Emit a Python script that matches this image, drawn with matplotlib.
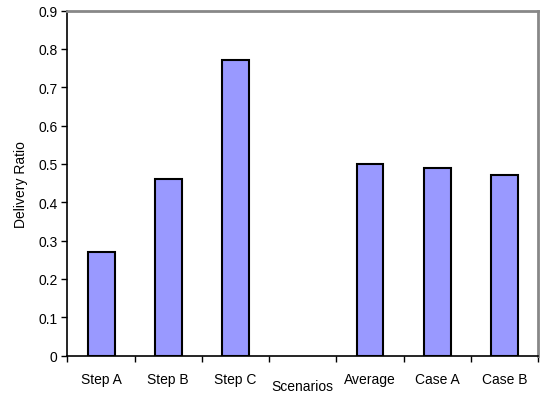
import matplotlib.pyplot as plt
import numpy as np

plt.rcParams["font.family"] = ["Liberation Sans", "DejaVu Sans"]

scenarios = ["Step A", "Step B", "Step C", "", "Average", "Case A", "Case B"]
delivery_ratio = [0.27, 0.46, 0.77, 0.0, 0.50, 0.49, 0.47]
y_ticks = [0, 0.1, 0.2, 0.3, 0.4, 0.5, 0.6, 0.7, 0.8, 0.9]

fig = plt.figure(figsize=(5.44, 4.02), dpi=100)
ax = fig.add_axes([0.124, 0.113, 0.865, 0.858])

x = np.arange(len(scenarios))
# empty slot has no bar drawn at all
lw = [1.5 if v > 0 else 0 for v in delivery_ratio]
ax.bar(x, delivery_ratio, width=0.4, color="#9999ff", edgecolor="black", linewidth=lw)

ax.set_xlim(-0.5, len(scenarios) - 0.5)
ax.set_ylim(0, 0.9)
ax.set_yticks(y_ticks)
ax.set_yticklabels(["0"] + [f"{v:.1f}" for v in y_ticks[1:]], fontsize=10)

# category boundaries as major ticks, labels on minor ticks at centres
ax.set_xticks(np.arange(-0.5, len(scenarios), 1.0))
ax.set_xticklabels([])
ax.set_xticks(x, minor=True)
ax.set_xticklabels(scenarios, minor=True, fontsize=10)
ax.tick_params(axis="x", which="minor", length=0, pad=11.5)
ax.tick_params(axis="both", which="major", direction="out", length=4, width=1, color="black")
ax.tick_params(axis="y", pad=3)

ax.spines["left"].set_color("black")
ax.spines["bottom"].set_color("black")
ax.spines["left"].set_linewidth(1.2)
ax.spines["bottom"].set_linewidth(1.2)
ax.spines["top"].set_color("#888888")
ax.spines["right"].set_color("#888888")
ax.spines["top"].set_linewidth(2)
ax.spines["right"].set_linewidth(2)

ax.set_xlabel("Scenarios", fontsize=10)
ax.set_ylabel("Delivery Ratio", fontsize=10)
ax.xaxis.set_label_coords(0.5, -0.068)
ax.yaxis.set_label_coords(-0.084, 0.5)

fig.savefig("out.png", dpi=100)
